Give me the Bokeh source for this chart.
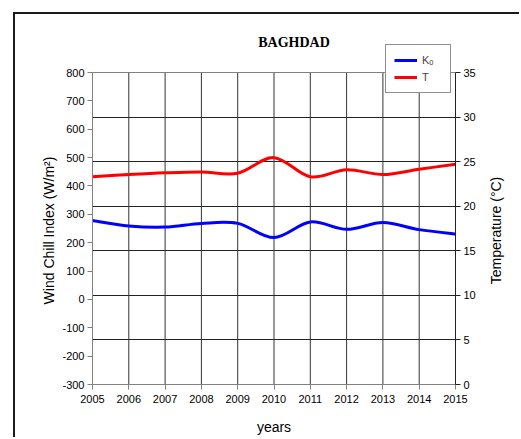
import math
from bokeh.plotting import figure
from bokeh.models import (Range1d, LinearAxis, FixedTicker, Grid, Legend, LegendItem,
                          Label, ColumnDataSource)
from bokeh.embed import file_html
from bokeh.resources import INLINE

years = [2005, 2006, 2007, 2008, 2009, 2010, 2011, 2012, 2013, 2014, 2015]
k0 = [278, 259, 255, 268, 268, 218, 273, 247, 271, 246, 231]          # W/m^2 (left axis)
temp = [23.3, 23.55, 23.75, 23.85, 23.7, 25.45, 23.3, 24.1, 23.55, 24.15, 24.7]  # degC (right axis)
left_ticks = [-300, -200, -100, 0, 100, 200, 300, 400, 500, 600, 700, 800]
right_ticks = [0, 5, 10, 15, 20, 25, 30, 35]

FONT = "Liberation Sans"

# layout (canvas pixels)
OFF_X, OFF_Y = 15, 14            # canvas offset inside page (margin + border)
W, H = 521 - OFF_X, 439 - OFF_Y
F_LEFT, F_TOP, F_RIGHT, F_BOTTOM = 92 - OFF_X, 20 - OFF_Y, 455 - OFF_X, 384 - OFF_Y
AX_TOP = 72 - OFF_Y              # where 800 / 35 sit
plot_h = F_BOTTOM - AX_TOP
extra = (AX_TOP - F_TOP) / plot_h
L_LO, L_HI = left_ticks[0], left_ticks[-1]
R_LO, R_HI = right_ticks[0], right_ticks[-1]
L_TOP = L_HI + (L_HI - L_LO) * extra
R_TOP = R_HI + (R_HI - R_LO) * extra
AX_MID = (AX_TOP + F_BOTTOM) / 2


def smooth_segments(xs, ys):
    # Catmull-Rom style smoothing expressed as cubic Bezier control points
    n = len(xs)
    out = dict(x0=[], y0=[], x1=[], y1=[], cx0=[], cy0=[], cx1=[], cy1=[])
    for i in range(n - 1):
        xa, ya = xs[max(i - 1, 0)], ys[max(i - 1, 0)]
        xb, yb = xs[i], ys[i]
        xc, yc = xs[i + 1], ys[i + 1]
        xd, yd = xs[min(i + 2, n - 1)], ys[min(i + 2, n - 1)]
        out["x0"].append(xb); out["y0"].append(yb)
        out["x1"].append(xc); out["y1"].append(yc)
        out["cx0"].append(xb + (xc - xa) / 6.0); out["cy0"].append(yb + (yc - ya) / 6.0)
        out["cx1"].append(xc - (xd - xb) / 6.0); out["cy1"].append(yc - (yd - yb) / 6.0)
    return ColumnDataSource(out)


p = figure(width=W, height=H, output_backend="svg", toolbar_location=None,
           x_range=Range1d(years[0], years[-1]), y_range=Range1d(L_LO, L_TOP),
           min_border_left=F_LEFT, min_border_right=W - F_RIGHT,
           min_border_top=F_TOP, min_border_bottom=H - F_BOTTOM)
p.styles = {"margin-left": "13px", "margin-top": "12px",
            "border-left": "2px solid #1a1a1a", "border-top": "2px solid #1a1a1a"}
p.extra_y_ranges = {"t": Range1d(R_LO, R_TOP)}
p.background_fill_color = "white"
p.border_fill_color = "white"
p.outline_line_color = None

# axes
p.xaxis.ticker = FixedTicker(ticks=years)
p.yaxis.ticker = FixedTicker(ticks=left_ticks)
p.yaxis.major_label_overrides = {t: str(t) for t in left_ticks}
p.yaxis.bounds = (L_LO, L_HI)
for ax in (p.xaxis[0], p.yaxis[0]):
    ax.axis_line_color = "#808080"
    ax.major_tick_line_color = "#808080"
    ax.major_tick_out = 5
    ax.major_tick_in = 0
    ax.minor_tick_line_color = None
    ax.major_label_text_font = FONT
    ax.major_label_text_font_size = "11px"
    ax.major_label_text_color = "black"
    ax.axis_label_text_font = FONT
    ax.axis_label_text_font_style = "normal"
    ax.axis_label_text_font_size = "14px"
    ax.axis_label_text_color = "black"
p.xaxis.axis_label = "years"
p.xaxis.major_label_standoff = 5
p.xaxis.axis_label_standoff = 13
p.yaxis.major_label_standoff = 3

rax = LinearAxis(y_range_name="t", ticker=FixedTicker(ticks=right_ticks), bounds=(R_LO, R_HI))
rax.axis_line_color = "#222222"
rax.major_tick_line_color = "#222222"
rax.major_tick_out = 5
rax.major_tick_in = 0
rax.minor_tick_line_color = None
rax.major_label_text_font = FONT
rax.major_label_text_font_size = "11px"
rax.major_label_text_color = "black"
rax.major_label_standoff = 3
p.add_layout(rax, "right")

# axis titles, centred on the 800..-300 / 0..35 part of the axes
llabel = Label(x=46 - OFF_X, y=AX_MID, x_units="canvas", y_units="canvas",
               text="Wind Chill Index (W/m²)", angle=math.pi / 2, text_align="center",
               text_baseline="middle", text_font=FONT, text_font_size="14px", text_color="black")
p.add_layout(llabel, "left")
rlabel = Label(x=493 - OFF_X, y=AX_MID, x_units="canvas", y_units="canvas",
               text="Temperature (°C)", angle=math.pi / 2, text_align="center",
               text_baseline="middle", text_font=FONT, text_font_size="14px", text_color="black")
p.add_layout(rlabel, "right")

# grids: verticals at years (only inside the plot area), horizontals at temperature ticks
p.xgrid.grid_line_color = None
p.ygrid.grid_line_color = None
p.segment(x0=years[1:-1], y0=[L_LO] * (len(years) - 2), x1=years[1:-1], y1=[L_HI] * (len(years) - 2),
          line_color="#333333", line_width=1)
hgrid = Grid(dimension=1, ticker=FixedTicker(ticks=right_ticks[1:-1]), y_range_name="t",
             grid_line_color="#222222", grid_line_width=1)
p.add_layout(hgrid)
# top edge of plot area
p.segment(x0=[years[0]], y0=[L_HI], x1=[years[-1]], y1=[L_HI], line_color="#808080", line_width=1)

# series
src_k = smooth_segments(years, k0)
src_t = smooth_segments(years, temp)
rk = p.bezier(x0="x0", y0="y0", x1="x1", y1="y1", cx0="cx0", cy0="cy0", cx1="cx1", cy1="cy1",
              source=src_k, line_color="#0000ff", line_width=3)
rt = p.bezier(x0="x0", y0="y0", x1="x1", y1="y1", cx0="cx0", cy0="cy0", cx1="cx1", cy1="cy1",
              source=src_t, line_color="#ff0000", line_width=3, y_range_name="t")

legend = Legend(items=[LegendItem(label="Kₒ", renderers=[rk]), LegendItem(label="T", renderers=[rt])],
                location=(385 - 92, 384 - 93), orientation="vertical",
                border_line_color="#222222", border_line_width=1, background_fill_color="white",
                background_fill_alpha=1, label_text_font=FONT, label_text_font_size="11px",
                glyph_width=23, glyph_height=14, label_height=14, label_standoff=5,
                padding=8, spacing=3, margin=0)
p.add_layout(legend, "center")

# title
title = Label(x=2010.55, y=L_HI, y_offset=30, text="BAGHDAD", text_font="Liberation Serif",
              text_font_style="bold", text_font_size="14px", text_align="center",
              text_baseline="middle", text_color="black")
p.add_layout(title)

open("out.html", "w").write(file_html(p, INLINE))
